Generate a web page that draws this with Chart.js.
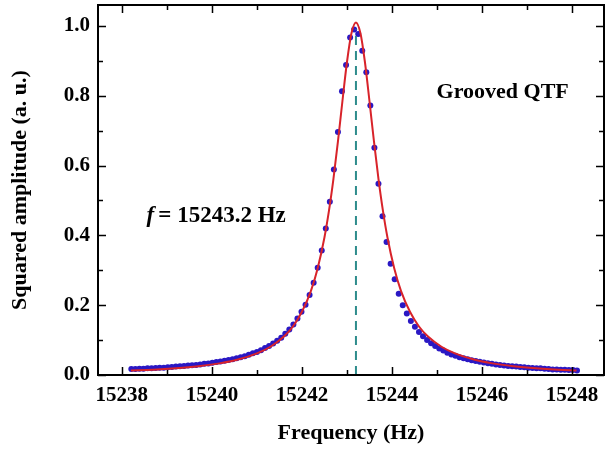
<!DOCTYPE html>
<html lang="en">
<head>
  <meta http-equiv="content-type" content="text/html; charset=utf-8" />
  <script src="https://cdn.jsdelivr.net/npm/chart.js/dist/chart.umd.min.js"></script>
  <style>
    body { margin: 0; background: #fff; }
  </style>
</head>
<body>
  <canvas id="qtfChart" width="608" height="454"></canvas>
  <script>
// measured points (Hz, a. u.)
const freq = [
  15238.21, 15238.30, 15238.39, 15238.48, 15238.57, 15238.66, 15238.75, 15238.84, 15238.93, 15239.02,
  15239.11, 15239.20, 15239.29, 15239.38, 15239.47, 15239.56, 15239.65, 15239.74, 15239.83, 15239.92,
  15240.01, 15240.10, 15240.19, 15240.28, 15240.37, 15240.46, 15240.55, 15240.64, 15240.73, 15240.82,
  15240.91, 15241.00, 15241.09, 15241.18, 15241.27, 15241.36, 15241.45, 15241.54, 15241.63, 15241.72,
  15241.81, 15241.90, 15241.99, 15242.08, 15242.17, 15242.26, 15242.35, 15242.44, 15242.53, 15242.62,
  15242.71, 15242.80, 15242.89, 15242.98, 15243.07, 15243.16, 15243.25, 15243.34, 15243.43, 15243.52,
  15243.61, 15243.70, 15243.79, 15243.88, 15243.97, 15244.06, 15244.15, 15244.24, 15244.33, 15244.42,
  15244.51, 15244.60, 15244.69, 15244.78, 15244.87, 15244.96, 15245.05, 15245.14, 15245.23, 15245.32,
  15245.41, 15245.50, 15245.59, 15245.68, 15245.77, 15245.86, 15245.95, 15246.04, 15246.13, 15246.22,
  15246.31, 15246.40, 15246.49, 15246.58, 15246.67, 15246.76, 15246.85, 15246.94, 15247.03, 15247.12,
  15247.21, 15247.30, 15247.39, 15247.48, 15247.57, 15247.66, 15247.75, 15247.84, 15247.93, 15248.02,
  15248.11
];
const amp = [
  0.017, 0.017, 0.018, 0.018, 0.019, 0.019, 0.020, 0.021, 0.021, 0.022,
  0.023, 0.024, 0.025, 0.026, 0.027, 0.028, 0.029, 0.030, 0.032, 0.033,
  0.035, 0.037, 0.039, 0.041, 0.043, 0.045, 0.048, 0.051, 0.054, 0.058,
  0.062, 0.066, 0.071, 0.077, 0.083, 0.090, 0.098, 0.107, 0.118, 0.130,
  0.145, 0.162, 0.181, 0.201, 0.229, 0.264, 0.307, 0.357, 0.420, 0.496,
  0.589, 0.696, 0.813, 0.888, 0.967, 0.990, 0.977, 0.929, 0.867, 0.772,
  0.651, 0.548, 0.455, 0.381, 0.319, 0.274, 0.233, 0.200, 0.176, 0.155,
  0.138, 0.123, 0.111, 0.100, 0.091, 0.083, 0.076, 0.070, 0.064, 0.059,
  0.055, 0.051, 0.048, 0.045, 0.042, 0.040, 0.038, 0.036, 0.034, 0.032,
  0.030, 0.029, 0.027, 0.026, 0.025, 0.024, 0.023, 0.022, 0.021, 0.020,
  0.019, 0.019, 0.018, 0.017, 0.016, 0.016, 0.015, 0.015, 0.014, 0.014,
  0.013
];

// fitted curve
const fitFreq = [
  15238.2, 15238.7, 15239.2, 15239.7, 15240.2, 15240.6, 15241.0, 15241.3, 15241.6, 15241.8,
  15242.0, 15242.2, 15242.35, 15242.5, 15242.6, 15242.7, 15242.8, 15242.9, 15243.0, 15243.1,
  15243.2, 15243.3, 15243.4, 15243.5, 15243.6, 15243.7, 15243.8, 15243.9, 15244.05, 15244.2,
  15244.4, 15244.6, 15244.8, 15245.1, 15245.4, 15245.8, 15246.2, 15246.7, 15247.2, 15247.7,
  15248.1
];
const fitAmp = [
  0.013, 0.015, 0.019, 0.025, 0.034, 0.045, 0.062, 0.081, 0.110, 0.139,
  0.181, 0.241, 0.306, 0.394, 0.470, 0.562, 0.669, 0.785, 0.896, 0.979,
  1.010, 0.979, 0.896, 0.785, 0.669, 0.562, 0.470, 0.394, 0.306, 0.241,
  0.181, 0.139, 0.110, 0.081, 0.062, 0.045, 0.034, 0.025, 0.019, 0.015,
  0.013
];

// resonance marker
const peakFreq = 15243.2;
const peakAmp = 0.99;

// axes
const xMin = 15237.47, xMax = 15248.71;
const yMin = 0, yMax = 1.06;
const xTicks = [15238, 15240, 15242, 15244, 15246, 15248];
const xMinor = [15239, 15241, 15243, 15245, 15247];
const yTicks = [0.0, 0.2, 0.4, 0.6, 0.8, 1.0];
const yMinor = [0.1, 0.3, 0.5, 0.7, 0.9];

// labels inside the plot (data coordinates)
const sampleLabel = 'Grooved QTF';
const sampleLabelAt = [15246.46, 0.809];
const freqLabel = '= 15243.2 Hz';
const freqLabelAt = [15238.55, 0.454];

const serif = "'Liberation Serif', 'Times New Roman', serif";

const framePlugin = {
  id: 'frame',
  afterDatasetsDraw(chart) {
    const {ctx, chartArea: a, scales: {x, y}} = chart;
    ctx.save();
    ctx.strokeStyle = '#000';
    ctx.lineWidth = 2;
    ctx.strokeRect(a.left, a.top, a.right - a.left, a.bottom - a.top);
    ctx.lineWidth = 1.5;
    ctx.beginPath();
    const tickX = (vals, len) => vals.forEach(v => {
      const px = Math.round(x.getPixelForValue(v)) + 0.5;
      ctx.moveTo(px, a.bottom); ctx.lineTo(px, a.bottom - len);
      ctx.moveTo(px, a.top); ctx.lineTo(px, a.top + len);
    });
    const tickY = (vals, len) => vals.forEach(v => {
      const py = Math.round(y.getPixelForValue(v)) + 0.5;
      ctx.moveTo(a.left, py); ctx.lineTo(a.left + len, py);
      ctx.moveTo(a.right, py); ctx.lineTo(a.right - len, py);
    });
    tickX(xTicks, 8); tickX(xMinor, 5);
    tickY(yTicks, 8); tickY(yMinor, 5);
    ctx.stroke();

    // text labels
    ctx.fillStyle = '#000';
    ctx.textBaseline = 'middle';
    ctx.font = 'bold 22px ' + serif;
    ctx.textAlign = 'center';
    ctx.fillText(sampleLabel, x.getPixelForValue(sampleLabelAt[0]), y.getPixelForValue(sampleLabelAt[1]));
    ctx.textAlign = 'left';
    let fx = x.getPixelForValue(freqLabelAt[0]);
    const fy = y.getPixelForValue(freqLabelAt[1]);
    ctx.font = 'italic bold 23px ' + serif;
    ctx.fillText('f', fx, fy);
    fx += ctx.measureText('f').width + 4;
    ctx.font = 'bold 23px ' + serif;
    ctx.fillText(freqLabel, fx, fy);
    ctx.restore();
  }
};

const ctx = document.getElementById('qtfChart').getContext('2d');
const chart = new Chart(ctx, {
  type: 'scatter',
  data: {
    datasets: [
      {
        label: 'fit',
        type: 'line',
        data: fitFreq.map((f, i) => ({x: f, y: fitAmp[i]})),
        borderColor: '#d8232a',
        borderWidth: 2,
        pointRadius: 0,
        tension: 0.4,
        cubicInterpolationMode: 'monotone',
        order: 1
      },
      {
        label: 'data',
        data: freq.map((f, i) => ({x: f, y: amp[i]})),
        backgroundColor: '#2a18c4',
        borderColor: '#2a18c4',
        pointRadius: 3,
        borderWidth: 0,
        order: 2
      },
      {
        label: 'f0',
        type: 'line',
        data: [{x: peakFreq, y: 0}, {x: peakFreq, y: peakAmp}],
        borderColor: '#2e8c8c',
        borderWidth: 2,
        borderDash: [9, 6],
        pointRadius: 0,
        order: 0
      }
    ]
  },
  options: {
    responsive: false,
    animation: false,
    layout: { padding: { top: 5, right: 3, left: 0, bottom: 0 } },
    plugins: { legend: { display: false }, tooltip: { enabled: false } },
    scales: {
      x: {
        type: 'linear',
        min: xMin,
        max: xMax,
        grid: { display: false, drawTicks: false },
        border: { display: false },
        afterBuildTicks: s => { s.ticks = xTicks.map(v => ({value: v})); },
        afterFit: s => { s.height = 79; s.paddingLeft = 0; s.paddingRight = 0; },
        ticks: {
          padding: 8,
          color: '#000',
          font: { family: serif, size: 21, weight: 'bold' },
          callback: v => String(v)
        },
        title: {
          display: true,
          text: 'Frequency (Hz)',
          color: '#000',
          font: { family: serif, size: 22, weight: 'bold' },
          padding: { top: 0, bottom: 7 }
        }
      },
      y: {
        min: yMin,
        max: yMax,
        grid: { display: false, drawTicks: false },
        border: { display: false },
        afterBuildTicks: s => { s.ticks = yTicks.map(v => ({value: v})); },
        afterFit: s => { s.width = 98; s.paddingTop = 0; s.paddingBottom = 0; },
        ticks: {
          padding: 8,
          color: '#000',
          font: { family: serif, size: 21, weight: 'bold' },
          callback: v => v.toFixed(1)
        },
        title: {
          display: true,
          text: 'Squared amplitude (a. u.)',
          color: '#000',
          font: { family: serif, size: 22, weight: 'bold' },
          padding: { top: 7, bottom: 0 }
        }
      }
    }
  },
  plugins: [framePlugin]
});
  </script>
</body>
</html>
